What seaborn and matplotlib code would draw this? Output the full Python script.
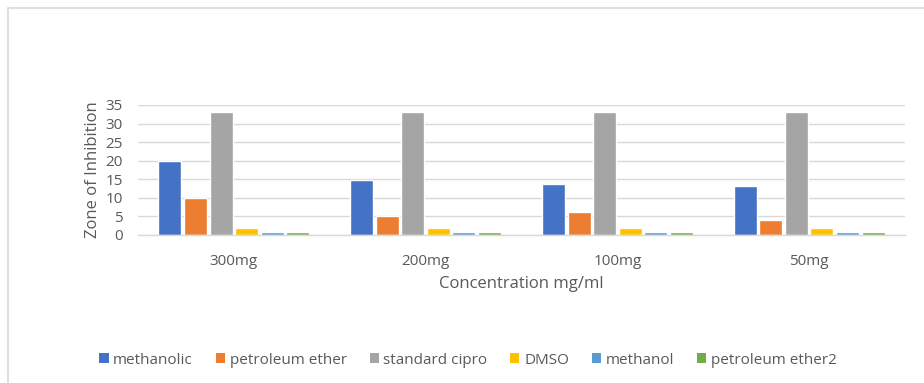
import matplotlib
matplotlib.use("Agg")
import matplotlib.pyplot as plt
from matplotlib.patches import Rectangle, Patch
import seaborn as sns
import pandas as pd

# Zone of inhibition (mm) per extract / control at each concentration
concentrations = ["300mg", "200mg", "100mg", "50mg"]
methanolic = [20, 14.7, 13.6, 13.2]
petroleum_ether = [10, 5, 6.1, 4]
standard_cipro = [33, 33, 33, 33]
dmso = [2, 2, 2, 2]
methanol = [0.8, 0.8, 0.8, 0.8]
petroleum_ether2 = [0.8, 0.8, 0.8, 0.8]

series_names = ["methanolic", "petroleum ether", "standard cipro",
                "DMSO", "methanol", "petroleum ether2"]
series_values = [methanolic, petroleum_ether, standard_cipro,
                 dmso, methanol, petroleum_ether2]
colors = ["#4472C4", "#ED7D31", "#A5A5A5", "#FFC000", "#5B9BD5", "#70AD47"]

rows = []
for name, vals in zip(series_names, series_values):
    for c, v in zip(concentrations, vals):
        rows.append({"Concentration": c, "Series": name, "Zone": v})
df = pd.DataFrame(rows)

sns.set_theme(style="white")
plt.rcParams["font.family"] = ["Open Sans", "DejaVu Sans"]
text_color = "#595959"

W, H = 924, 383
fig = plt.figure(figsize=(W / 100, H / 100), dpi=100)
ax = fig.add_axes([138 / W, 1 - 235 / H, (905 - 138) / W, (235 - 105) / H])

sns.barplot(data=df, x="Concentration", y="Zone", hue="Series",
            order=concentrations, hue_order=series_names,
            palette=colors, width=0.8, gap=0.1, ax=ax,
            errorbar=None, legend=False, saturation=1)

ax.set_ylim(0, 35)
ax.set_xlim(-0.5, 3.5)
ax.set_yticks(range(0, 36, 5))
ax.yaxis.grid(True, color="#D9D9D9", linewidth=1)
ax.set_axisbelow(True)
for s in ["top", "right", "left"]:
    ax.spines[s].set_visible(False)
ax.spines["bottom"].set_color("#D9D9D9")
ax.spines["bottom"].set_linewidth(1)
ax.tick_params(axis="both", length=0, labelsize=11, colors=text_color)
ax.tick_params(axis="x", pad=14)
ax.tick_params(axis="y", pad=11)
ax.set_xlabel("Concentration mg/ml", fontsize=12, color=text_color, labelpad=5)
ax.set_ylabel("Zone of Inhibition", fontsize=12, color=text_color, labelpad=3)

# Legend along the bottom
handles = [Patch(facecolor=c, edgecolor="none") for c in colors]
fig.legend(handles, series_names, loc="center", ncol=6,
           bbox_to_anchor=(468 / W, 1 - 360 / H), frameon=False,
           fontsize=11, labelcolor=text_color, handlelength=0.6,
           handleheight=0.6, handletextpad=0.3, columnspacing=1.5)

# Chart-area border
fig.add_artist(Rectangle((8 / W, -0.1), 1.2, 1 - 8 / H + 0.1,
                         transform=fig.transFigure, fill=False,
                         edgecolor="#D9D9D9", linewidth=1.2))

fig.savefig("out.png", dpi=100, facecolor="white")
